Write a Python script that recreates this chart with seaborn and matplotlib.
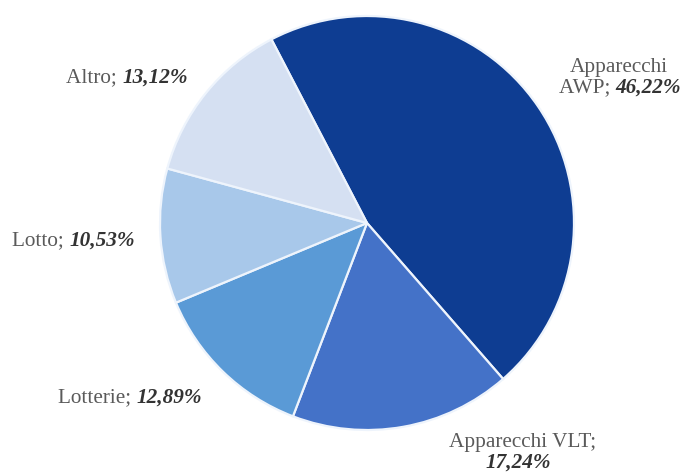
import matplotlib
matplotlib.use("Agg")
import matplotlib.pyplot as plt
import seaborn as sns

sns.set_theme(style="white")
plt.rcParams['font.family'] = ['Liberation Serif', 'DejaVu Serif']

categories = ["Apparecchi AWP", "Apparecchi VLT", "Lotterie", "Lotto", "Altro"]
values = [46.22, 17.24, 12.89, 10.53, 13.12]
value_labels = ["46,22%", "17,24%", "12,89%", "10,53%", "13,12%"]
colors = ["#0e3d92", "#4472c8", "#5a9ad6", "#a8c8ea", "#d5e0f2"]

W, H = 685, 473
fig = plt.figure(figsize=(W / 100, H / 100), dpi=100)
ax = fig.add_axes([0, 0, 1, 1])

cx, cy, R = 367, 223, 207  # pixel geometry of the pie
ax.pie(values, colors=colors, startangle=117.5, counterclock=False,
       radius=1.0, center=(0, 0),
       wedgeprops=dict(edgecolor="#eef4fc", linewidth=1.6))
ax.set_xlim(-cx / R, (W - cx) / R)
ax.set_ylim((cy - H) / R, cy / R)
ax.set_aspect("equal")
ax.axis("off")

def px(x, y):
    return ((x - cx) / R, (cy - y) / R)

fs = 15.3
gray = "#5a5a5a"
dark = "#333333"

def label(x, y, name, val):
    t = ax.text(*px(x, y), name + "; ", ha="left", va="center",
                fontsize=fs, color=gray)
    ax.annotate(val, xy=(1, 0), xycoords=t, ha="left", va="bottom",
                fontsize=fs, color=dark, fontweight="bold", fontstyle="italic")

label(66, 78, "Altro", value_labels[4])
label(12, 241, "Lotto", value_labels[3])
label(58, 398, "Lotterie", value_labels[2])

# AWP (two lines, centred)
ax.text(*px(619, 68), "Apparecchi", ha="center", va="center", fontsize=fs, color=gray)
t = ax.text(*px(559, 88), "AWP; ", ha="left", va="center", fontsize=fs, color=gray)
ax.annotate(value_labels[0], xy=(1, 0), xycoords=t, ha="left", va="bottom",
            fontsize=fs, color=dark, fontweight="bold", fontstyle="italic")

# VLT
ax.text(*px(449, 442), "Apparecchi VLT;", ha="left", va="center", fontsize=fs, color=gray)
ax.text(*px(518, 463), value_labels[1], ha="center", va="center", fontsize=fs,
        color=dark, fontweight="bold", fontstyle="italic")

fig.savefig("out.png", dpi=100)
